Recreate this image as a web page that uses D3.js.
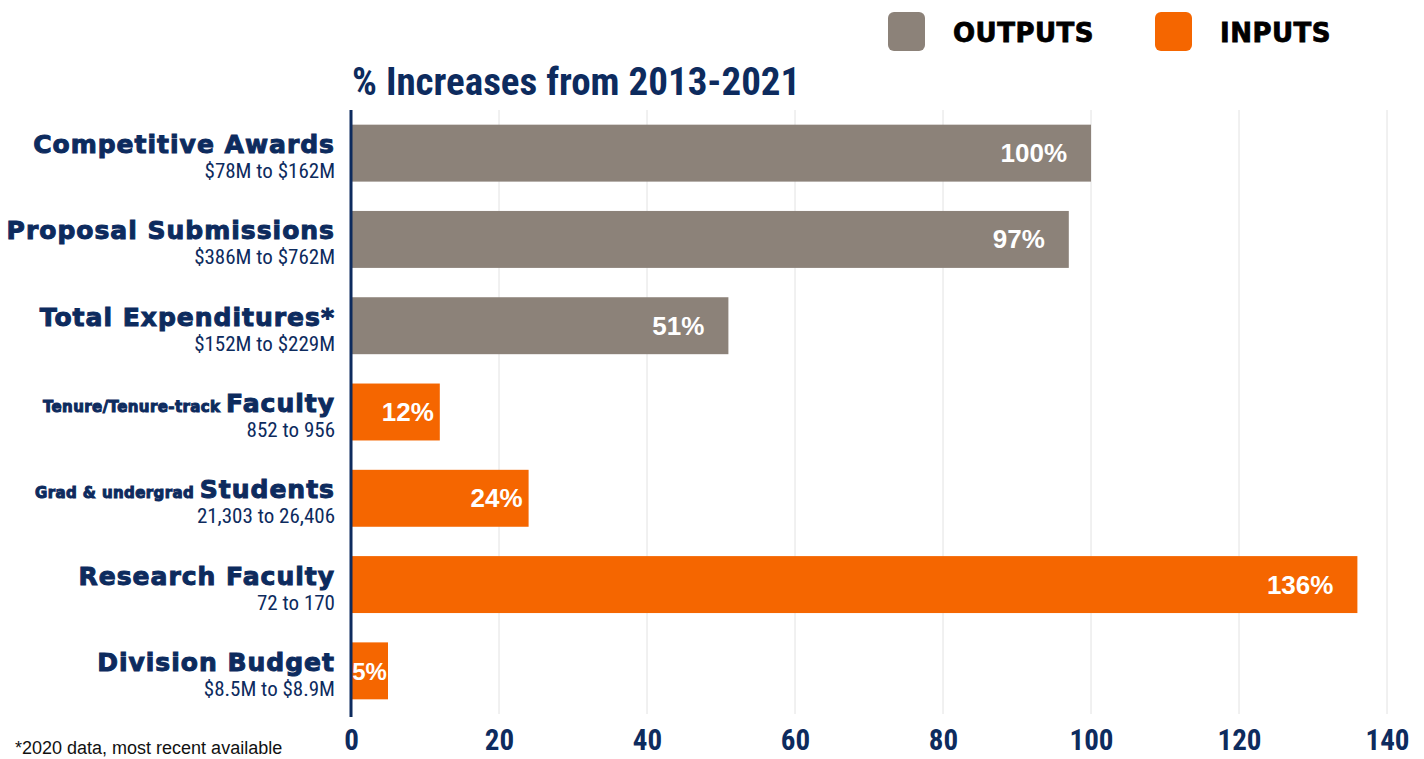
<!DOCTYPE html>
<html>
<head>
<meta charset="utf-8">
<script src="https://cdn.jsdelivr.net/npm/d3@7"></script>
<style>
  body { margin: 0; background: #fff; }
  svg { display: block; }
</style>
</head>
<body>
<svg id="chart" width="1424" height="759"></svg>
<script>
// datos
const categories = ["Competitive Awards", "Proposal Submissions", "Total Expenditures*", "Faculty", "Students", "Research Faculty", "Division Budget"]
const prefixes = ["", "", "", "Tenure/Tenure-track ", "Grad & undergrad ", "", ""]
const ranges = ["$78M to $162M", "$386M to $762M", "$152M to $229M", "852 to 956", "21,303 to 26,406", "72 to 170", "$8.5M to $8.9M"]
const values = [100, 97, 51, 12, 24, 136, 5]
const groups = ["OUTPUTS", "OUTPUTS", "OUTPUTS", "INPUTS", "INPUTS", "INPUTS", "INPUTS"]
const legendKeys = ["OUTPUTS", "INPUTS"]
const ticks = [0, 20, 40, 60, 80, 100, 120, 140]

const title = "% Increases from 2013-2021"
const footnote = "*2020 data, most recent available"

const navy = "#0d2b5e"
const color = d3.scaleOrdinal()
    .domain(legendKeys)
    .range(["#8c8279", "#f56600"])

const rows = categories.map((c, i) => ({
    name: c, prefix: prefixes[i], range: ranges[i], value: values[i], group: groups[i]
}))

const svg = d3.select('#chart')

const x = d3.scaleLinear()
    .domain([0, 140])
    .range([351, 1387])

const y = d3.scaleBand()
    .domain(categories)
    .range([110, 714])
    .paddingInner(0.34)
    .paddingOuter(0.17)

const heavy = "'DejaVu Sans', sans-serif"
const narrow = "'Liberation Sans Narrow', 'Roboto Condensed', 'Liberation Sans', sans-serif"

// grid
svg.append('g')
    .selectAll('line')
    .data(ticks.slice(1))
    .join('line')
    .attr('x1', d => x(d)).attr('x2', d => x(d))
    .attr('y1', 110).attr('y2', 714)
    .attr('stroke', '#e2e2e2')
    .attr('stroke-width', 1)

// eje x
const xAxis = svg.append('g')
    .attr('transform', 'translate(0, 724)')
    .call(d3.axisBottom(x).tickValues(ticks).tickSize(0).tickPadding(0))
xAxis.select('.domain').remove()
xAxis.selectAll('text')
    .attr('y', 26)
    .attr('dy', 0)
    .attr('fill', navy)
    .style('font-family', narrow)
    .style('font-weight', 'bold')
    .style('font-size', '29px')

// barras
svg.append('g')
    .selectAll('rect')
    .data(rows)
    .join('rect')
    .attr('x', x(0))
    .attr('y', d => y(d.name))
    .attr('width', d => x(d.value) - x(0))
    .attr('height', y.bandwidth())
    .attr('fill', d => color(d.group))

// etiquetas de valor
svg.append('g')
    .selectAll('text')
    .data(rows)
    .join('text')
    .attr('x', d => {
        const w = x(d.value) - x(0)
        return w < 60 ? x(0) + w / 2 : (w < 200 ? x(d.value) - 6 : x(d.value) - 24)
    })
    .attr('y', d => y(d.name) + y.bandwidth() / 2 + 9)
    .attr('text-anchor', d => (x(d.value) - x(0)) < 60 ? 'middle' : 'end')
    .attr('fill', '#fff')
    .style('font-family', "'Liberation Sans', Arial, sans-serif")
    .style('font-weight', 'bold')
    .style('font-size', d => (x(d.value) - x(0)) < 60 ? '24px' : '26px')
    .text(d => d.value + '%')

// eje vertical
svg.append('line')
    .attr('x1', x(0)).attr('x2', x(0))
    .attr('y1', 110).attr('y2', 717)
    .attr('stroke', navy)
    .attr('stroke-width', 3)

// etiquetas de categoria
const labels = svg.append('g')
    .selectAll('g')
    .data(rows)
    .join('g')
    .attr('transform', d => `translate(335, ${y(d.name) + y.bandwidth() / 2})`)

const main = labels.append('text')
    .attr('y', 0)
    .attr('text-anchor', 'end')
    .attr('fill', navy)
    .attr('stroke', navy)
    .attr('stroke-width', 1)
    .style('font-family', heavy)
    .style('font-weight', 'bold')
    .style('letter-spacing', '1px')

main.append('tspan')
    .style('font-size', '15px')
    .style('letter-spacing', '0.4px')
    .text(d => d.prefix)
main.append('tspan')
    .style('font-size', '25px')
    .text(d => d.name)

labels.append('text')
    .attr('y', 25)
    .attr('text-anchor', 'end')
    .attr('fill', navy)
    .style('font-family', narrow)
    .style('font-size', '21px')
    .text(d => d.range)

// titulo
svg.append('text')
    .attr('x', 352)
    .attr('y', 95)
    .attr('fill', navy)
    .style('font-family', narrow)
    .style('font-weight', 'bold')
    .style('font-size', '39px')
    .text(title)

// nota
svg.append('text')
    .attr('x', 15)
    .attr('y', 754)
    .attr('fill', '#111')
    .style('font-family', "'Liberation Sans', Arial, sans-serif")
    .style('font-size', '18px')
    .text(footnote)

// leyenda
const legend = svg.append('g')
    .selectAll('g')
    .data(legendKeys)
    .join('g')
    .attr('transform', (d, i) => `translate(${888 + i * 267}, 12)`)

legend.append('rect')
    .attr('width', 37)
    .attr('height', 39)
    .attr('rx', 6)
    .attr('fill', d => color(d))

legend.append('text')
    .attr('x', 65)
    .attr('y', 30)
    .attr('fill', '#000')
    .attr('stroke', '#000')
    .attr('stroke-width', 0.8)
    .style('font-family', heavy)
    .style('font-weight', 'bold')
    .style('font-size', '26px')
    .style('letter-spacing', '0.5px')
    .text(d => d)
</script>
</body>
</html>
